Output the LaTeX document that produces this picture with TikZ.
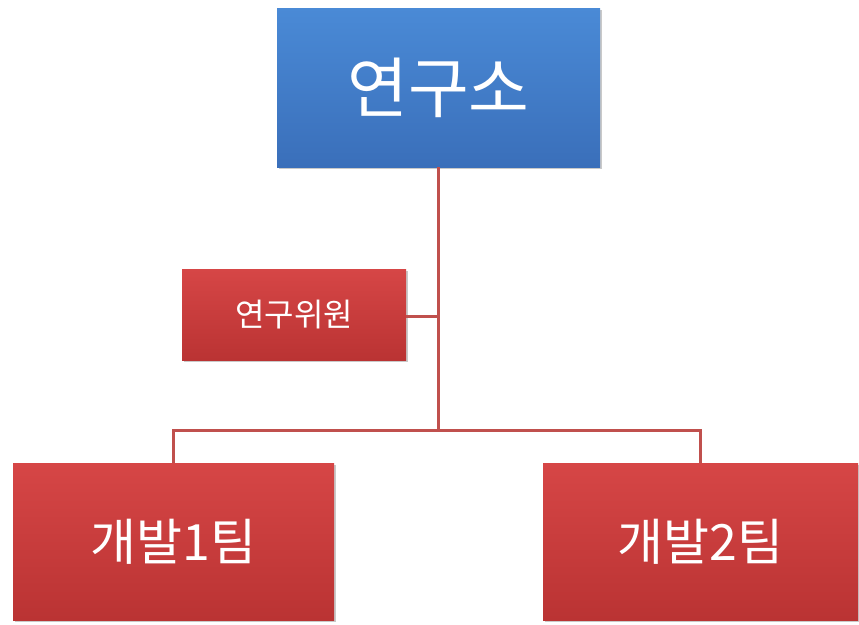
\documentclass[tikz,border=0pt]{standalone}
\usepackage{fontspec}
\newfontfamily\kr{Noto Sans CJK KR}
\usetikzlibrary{shadows}
\definecolor{bluetop}{HTML}{4A8AD6}
\definecolor{bluebot}{HTML}{3A6FBA}
\definecolor{redtop}{HTML}{D64646}
\definecolor{redbot}{HTML}{BA3333}
\definecolor{linered}{HTML}{C0504D}
\tikzset{
  x=1pt,y=-1pt,
  boxbase/.style={draw=none, inner sep=0, outer sep=0, text=white, font=\kr,
    drop shadow={shadow xshift=1.5pt, shadow yshift=-2pt, opacity=0.35, fill=black!60}},
  bluebox/.style={boxbase, top color=bluetop, bottom color=bluebot},
  redbox/.style={boxbase, top color=redtop, bottom color=redbot},
  conn/.style={draw=linered, line width=3pt}
}
\begin{document}
\begin{tikzpicture}
\useasboundingbox (0,0) rectangle (859,624);
\fill[white] (0,0) rectangle (859,624);
% connectors first (behind boxes)
\coordinate (j2) at (438.5,430);
\node[bluebox, minimum width=323pt, minimum height=159pt,
  font=\kr\fontsize{66}{70}\selectfont] (top) at (438.5,87.5) {연구소};
\node[redbox, minimum width=224pt, minimum height=91pt,
  font=\kr\fontsize{32}{36}\selectfont] (mid) at (294,314.5) {연구위원};
\node[redbox, minimum width=321pt, minimum height=157pt,
  font=\kr\fontsize{50}{54}\selectfont] (d1) at (173.5,541.5) {개발1팀};
\node[redbox, minimum width=315pt, minimum height=157pt,
  font=\kr\fontsize{50}{54}\selectfont] (d2) at (700.5,541.5) {개발2팀};
\draw[conn] (top.south) -- (j2);
\draw[conn] ([yshift=-1.5pt]mid.east) -- ([yshift=-1.5pt]mid.east -| top.south);
\draw[conn] (d1.north) |- (j2) -| (d2.north);
\end{tikzpicture}
\end{document}
